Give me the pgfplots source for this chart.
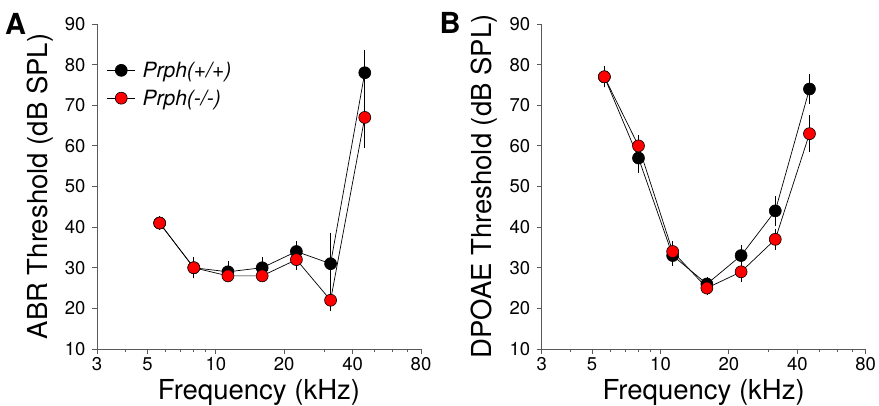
\documentclass[border=0pt]{standalone}
\usepackage{fontspec}
\setmainfont{TeX Gyre Heros}
\usepackage{pgfplots}
\pgfplotsset{compat=1.18}

% thresholds: freq (kHz), mean, sem
\pgfplotstableread{
f     y   e
5.66  41  0.5
8     30  2
11.31 29  2
16    30  2
22.63 34  2
32    31  7
45.25 78  5
}\abrwt
\pgfplotstableread{
f     y   e
5.66  41  1
8     30  2
11.31 28  1
16    28  1
22.63 32  2
32    22  2
45.25 67  7
}\abrko
\pgfplotstableread{
f     y   e
5.66  77  2
8     57  3
11.31 33  2
16    26  1
22.63 33  2
32    44  3
45.25 74  3
}\dpwt
\pgfplotstableread{
f     y   e
5.66  77  2
8     60  2
11.31 34  2
16    25  1
22.63 29  2
32    37  2
45.25 63  4
}\dpko

\pgfplotsset{
  thrax/.style={
    width=324pt, height=325pt, scale only axis,
    xmin=3, xmax=80, ymin=10, ymax=90,
    xtick={3,5,10,20,40,80}, xticklabels={3,5,10,20,40,80},
    minor xtick={4,6,7,8,9,30,50,60,70},
    ytick={10,20,...,90},
    axis x line*=bottom, axis y line*=left,
    tick align=outside,
    major tick length=5pt, minor tick length=3.5pt,
    axis line style={black!65, line width=0.9pt},
    every tick/.style={black!65, line width=0.9pt},
    tick label style={font=\fontsize{18.5}{20}\selectfont},
    yticklabel style={xshift=-3pt},
    label style={font=\fontsize{27.5}{30}\selectfont},
    xlabel={Frequency (kHz)},
    xlabel style={at={(rel axis cs:0.5,0)}, anchor=base, yshift=-51pt},
    ylabel style={at={(rel axis cs:0,0.5)}, anchor=base, yshift=50pt},
    clip=false,
  },
  serbk/.style={black, line width=0.7pt, mark=*, mark size=6pt,
    mark options={fill=black, draw=black, line width=0.6pt},
    error bars/y dir=both, error bars/y explicit,
    error bars/error bar style={line width=0.6pt, black},
    error bars/error mark options={mark size=2.5pt, line width=0.6pt, black}},
  serrd/.style={black, line width=0.7pt, mark=*, mark size=6pt,
    mark options={fill=red, draw=black, line width=0.6pt},
    error bars/y dir=both, error bars/y explicit,
    error bars/error bar style={line width=0.6pt, black},
    error bars/error mark options={mark size=2.5pt, line width=0.6pt, black}},
}

\begin{document}
\begin{tikzpicture}[x=1pt,y=1pt]
\begin{axis}[xmode=log, thrax, at={(0pt,0pt)}, anchor=south west,
  /pgf/number format/assume math mode=true,
  ylabel={ABR Threshold (dB SPL)},
  legend style={draw=none, fill=none, at={(0.03,0.89)}, anchor=north west,
    font=\itshape\fontsize{21}{24}\selectfont, inner sep=0pt, row sep=7pt,
    nodes={inner sep=2pt}},
  legend cell align=left,
  legend image code/.code={\draw[mark repeat=2,mark phase=2,#1] plot coordinates {(0pt,0pt) (14pt,0pt) (28pt,0pt)}; \path (33pt,0pt);},
]
\addplot[serbk] table[x=f, y=y, y error=e] {\abrwt};
\addlegendentry{Prph(+/+)}
\addplot[serrd] table[x=f, y=y, y error=e] {\abrko};
\addlegendentry{Prph(-/-)}
\end{axis}
\begin{axis}[xmode=log, thrax, at={(444.7pt,0pt)}, anchor=south west,
  /pgf/number format/assume math mode=true,
  ylabel={DPOAE Threshold (dB SPL)}]
\addplot[serbk] table[x=f, y=y, y error=e] {\dpwt};
\addplot[serrd] table[x=f, y=y, y error=e] {\dpko};
\end{axis}
\node[font=\bfseries\fontsize{29}{30}\selectfont] at (-81.5,325) {A};
\node[font=\bfseries\fontsize{29}{30}\selectfont] at (353,326) {B};
\pgfresetboundingbox
\useasboundingbox (-97,-57) rectangle (782,349);
\end{tikzpicture}
\end{document}
